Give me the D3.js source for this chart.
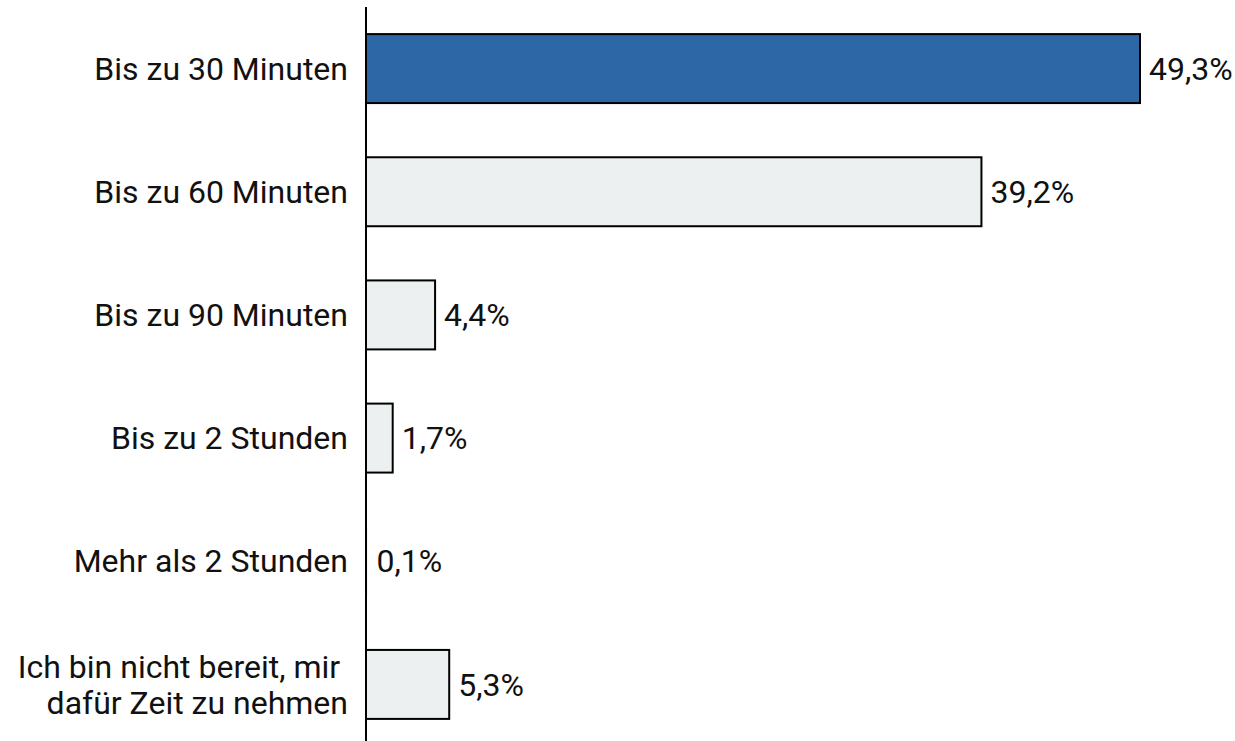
<!DOCTYPE html>
<html><head><meta charset="utf-8">
<script src="https://cdn.jsdelivr.net/npm/d3@7"></script>
<style>body{margin:0;background:#fff}svg{display:block}text{font-family:Roboto,sans-serif;white-space:pre}</style>
</head><body><svg id="c" width="1235" height="741"></svg>
<script>
const categories = [["Bis zu 30 Minuten"],["Bis zu 60 Minuten"],["Bis zu 90 Minuten"],["Bis zu 2 Stunden"],["Mehr als 2 Stunden"],["Ich bin nicht bereit, mir ","dafür Zeit zu nehmen"]];
const values = [49.3, 39.2, 4.4, 1.7, 0.1, 5.3];
const valueLabels = ["49,3%","39,2%","4,4%","1,7%","0,1%","5,3%"];
const highlight = [true,false,false,false,false,false];

const svg = d3.select("#c");
const fs = 32;
const y = d3.scaleBand().domain(d3.range(values.length)).range([7,746]).paddingInner(0.44).paddingOuter(0.22);
const x = d3.scaleLinear().domain([0,50]).range([366, 366+15.7*50]);

svg.selectAll("rect.bar").data(values).join("rect")
  .attr("x", x(0)).attr("y",(d,i)=>y(i)).attr("width",d=>x(d)-x(0)).attr("height",y.bandwidth())
  .attr("fill",(d,i)=>highlight[i]?"#2e67a5":"#edf0f1")
  .attr("stroke","#000").attr("stroke-width",d=>(x(d)-x(0))<3?0:2);

svg.append("line").attr("x1",x(0)).attr("x2",x(0)).attr("y1",7).attr("y2",741).attr("stroke","#000").attr("stroke-width",2);

svg.selectAll("text.val").data(values).join("text")
  .attr("x",d=>x(d)+9).attr("y",(d,i)=>y(i)+y.bandwidth()/2).attr("dy","0.35em")
  .attr("font-size",fs).attr("fill","#111").text((d,i)=>valueLabels[i]);

const lh = 36;
categories.forEach((lines,i)=>{
  const t = svg.append("text").attr("text-anchor","end").attr("font-size",fs).attr("fill","#111");
  const c = y(i)+y.bandwidth()/2;
  lines.forEach((l,j)=>{
    t.append("tspan").attr("x",348).attr("y", c + (j-(lines.length-1)/2)*lh).attr("dy","0.35em").text(l);
  });
});
</script></body></html>
